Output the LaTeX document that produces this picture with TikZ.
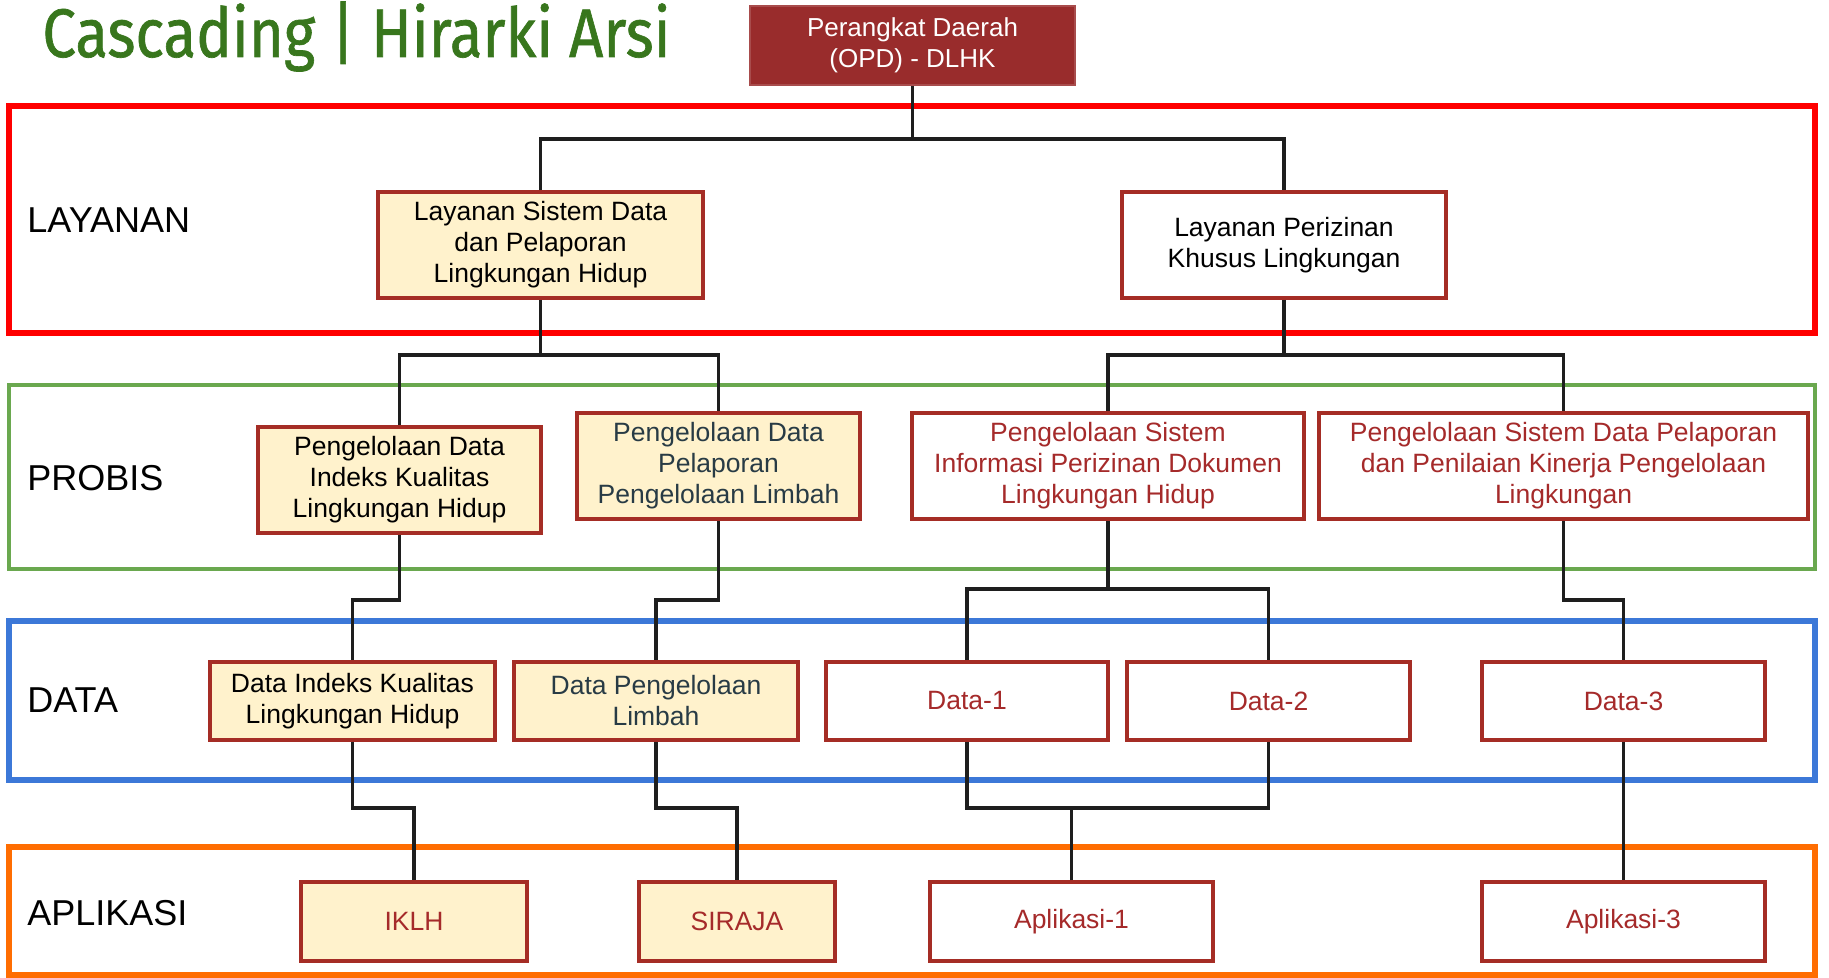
\documentclass[tikz,border=0pt]{standalone}
\usepackage{fontspec}
\setmainfont{Liberation Sans}
\newfontfamily\titlefont[FakeBold=1.0]{Fira Sans}
\usepackage{graphicx}

\definecolor{bandred}{HTML}{FF0000}
\definecolor{bandgreen}{HTML}{6AA84F}
\definecolor{bandblue}{HTML}{3C78D8}
\definecolor{bandorange}{HTML}{FF6D01}
\definecolor{boxline}{HTML}{A52D25}
\definecolor{boxfill}{HTML}{FFF2CC}
\definecolor{opdfill}{HTML}{992C2C}
\definecolor{txtred}{HTML}{A52A2A}
\definecolor{txtslate}{HTML}{283B45}
\definecolor{titlegreen}{HTML}{38761D}
\definecolor{wire}{HTML}{1E1E1E}

\tikzset{
  band/.style={line width=2.6pt},
  layerlabel/.style={anchor=west, inner sep=0pt, font=\fontsize{18}{21}\selectfont},
  unit/.style={draw=boxline, line width=1.8pt, align=center, inner sep=2pt,
               font=\fontsize{13.25}{15.5}\selectfont},
  cream/.style={unit, fill=boxfill},
  plain/.style={unit, fill=white},
  wirepath/.style={draw=wire, line width=1.7pt},
}

\begin{document}
\begin{tikzpicture}[x=0.5pt, y=-0.5pt]
\useasboundingbox (0,0) rectangle (1829,978);

% title
\node[anchor=south west, inner sep=0pt, text=titlegreen] (title) at (42,72)
  {\resizebox*{314pt}{35pt}{\titlefont Cascading | Hirarki Arsi}};

% layer bands
\draw[band, draw=bandred]    (9,106) rectangle (1815,333);
\draw[band, draw=bandgreen, line width=2.2pt]  (9,385) rectangle (1815,569);
\draw[band, draw=bandblue]   (9,621) rectangle (1815,780);
\draw[band, draw=bandorange] (9,847) rectangle (1815,975);

% layer labels
\node[layerlabel] (lbl1) at (27,220) {LAYANAN};
\node[layerlabel] (lbl2) at (27,478) {PROBIS};
\node[layerlabel] (lbl3) at (27,700) {DATA};
\node[layerlabel] (lbl4) at (27,913) {APLIKASI};

% levels of the horizontal runs
\coordinate (h0) at (0,139);
\coordinate (h1) at (0,355);
\coordinate (h2) at (0,600);
\coordinate (h2b) at (0,589);
\coordinate (h3) at (0,808);

% nodes
\node[fill=opdfill, draw=opdfill!85!white, line width=0.8pt, text=white, align=center,
      minimum width=162.5pt, minimum height=39.5pt, inner sep=2pt,
      font=\fontsize{13}{15.5}\selectfont] (opd) at (912.5,45.5)
  {Perangkat Daerah\\(OPD) - DLHK};

\node[cream, minimum width=162.5pt, minimum height=53pt] (l1) at (540.5,245)
  {Layanan Sistem Data\\dan Pelaporan\\Lingkungan Hidup};
\node[plain, minimum width=162pt, minimum height=53pt] (l2) at (1284,245)
  {Layanan Perizinan\\Khusus Lingkungan};

\node[cream, minimum width=141.5pt, minimum height=53pt] (p1) at (399.5,480)
  {Pengelolaan Data\\Indeks Kualitas\\Lingkungan Hidup};
\node[cream, text=txtslate, minimum width=141.5pt, minimum height=53pt] (p2) at (718.5,466)
  {Pengelolaan Data\\Pelaporan\\Pengelolaan Limbah};
\node[plain, text=txtred, minimum width=196pt, minimum height=53pt] (p3) at (1108,466)
  {Pengelolaan Sistem\\Informasi Perizinan Dokumen\\Lingkungan Hidup};
\node[plain, text=txtred, minimum width=244.5pt, minimum height=53pt] (p4) at (1563.5,466)
  {Pengelolaan Sistem Data Pelaporan\\dan Penilaian Kinerja Pengelolaan\\Lingkungan};

\node[cream, minimum width=142.5pt, minimum height=39pt] (d1) at (352.5,701)
  {Data Indeks Kualitas\\Lingkungan Hidup};
\node[cream, text=txtslate, minimum width=142pt, minimum height=39pt] (d2) at (656,701)
  {Data Pengelolaan\\Limbah};
\node[plain, text=txtred, minimum width=141pt, minimum height=39pt] (d3) at (967,701) {Data-1};
\node[plain, text=txtred, minimum width=141.5pt, minimum height=39pt] (d4) at (1268.5,701) {Data-2};
\node[plain, text=txtred, minimum width=141.5pt, minimum height=39pt] (d5) at (1623.5,701) {Data-3};

\node[cream, text=txtred, minimum width=113pt, minimum height=39.5pt] (a1) at (414,921.5) {IKLH};
\node[cream, text=txtred, minimum width=98pt, minimum height=39.5pt] (a2) at (737,921.5) {SIRAJA};
\node[plain, text=txtred, minimum width=141.5pt, minimum height=39.5pt] (a3) at (1071.5,921.5) {Aplikasi-1};
\node[plain, text=txtred, minimum width=141.5pt, minimum height=39.5pt] (a4) at (1623.5,921.5) {Aplikasi-3};

% connectors
\path[wirepath] (opd.south) -- (opd.south |- h0);
\path[wirepath] (l1.north) |- (opd.south |- h0) -| (l2.north);

\path[wirepath] (l1.south) -- (l1.south |- h1);
\path[wirepath] (p1.north) |- (l1.south |- h1) -| (p2.north);
\path[wirepath] (l2.south) -- (l2.south |- h1);
\path[wirepath] (p3.north) |- (l2.south |- h1) -| (p4.north);

\path[wirepath] (p1.south) -- (p1.south |- h2) -| (d1.north);
\path[wirepath] (p2.south) -- (p2.south |- h2) -| (d2.north);
\path[wirepath] (p3.south) -- (p3.south |- h2b);
\path[wirepath] (d3.north) |- (p3.south |- h2b) -| (d4.north);
\path[wirepath] (p4.south) -- (p4.south |- h2) -| (d5.north);

\path[wirepath] (d1.south) -- (d1.south |- h3) -| (a1.north);
\path[wirepath] (d2.south) -- (d2.south |- h3) -| (a2.north);
\path[wirepath] (d3.south) |- (d4.south |- h3) -- (d4.south);
\path[wirepath] (a3.north) -- (a3.north |- h3);
\path[wirepath] (d5.south) -- (a4.north);
\end{tikzpicture}
\end{document}
